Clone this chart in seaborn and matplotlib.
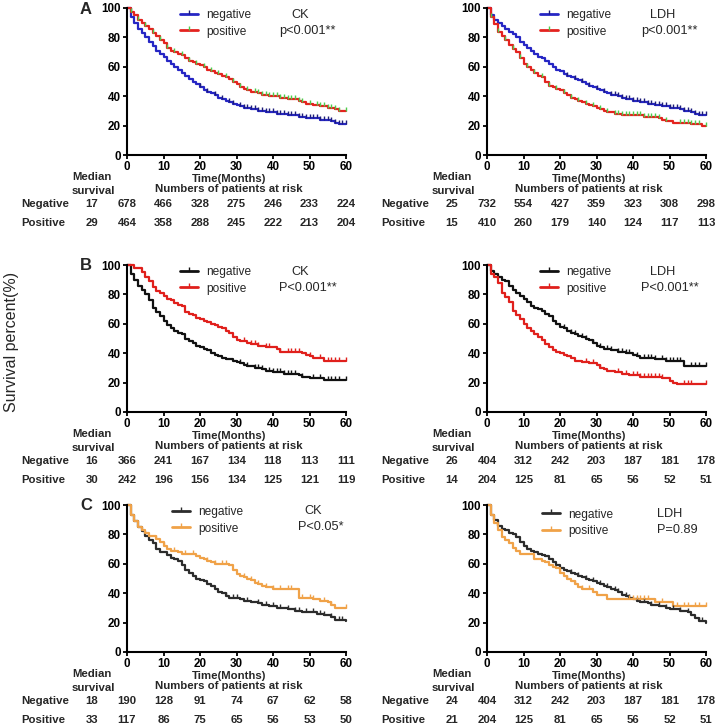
import matplotlib
matplotlib.use('Agg')
import matplotlib.pyplot as plt
import matplotlib.transforms as mtransforms
from matplotlib.lines import Line2D
from matplotlib.path import Path
import pandas as pd
import seaborn as sns

# survival (%) read month by month, 0..60
months = list(range(61))

ck_all_neg = [100, 94, 90, 86, 83, 80, 77, 74, 71, 69, 67, 64, 62, 60, 58, 56, 54, 52, 50, 48, 46,
              44, 43, 42, 41, 39, 38, 37, 36, 35, 34, 33, 32, 32, 31, 31, 30, 30, 29, 29, 29,
              28, 28, 28, 27, 27, 27, 26, 26, 25, 25, 25, 25, 24, 24, 24, 23, 22, 21, 21, 21]
ck_all_pos = [100, 97, 95, 92, 90, 88, 86, 83, 81, 78, 76, 73, 71, 70, 69, 68, 66, 64, 63, 62, 61,
              60, 58, 57, 56, 55, 54, 53, 52, 50, 48, 46, 45, 44, 43, 43, 42, 41, 41, 40, 40,
              40, 39, 39, 38, 38, 38, 37, 36, 35, 35, 34, 34, 33, 33, 32, 32, 31, 30, 30, 30]
ldh_all_neg = [100, 95, 92, 90, 88, 86, 84, 82, 80, 77, 75, 73, 71, 69, 67, 66, 64, 62, 60, 58, 57,
               55, 54, 53, 52, 51, 50, 48, 47, 46, 45, 44, 43, 42, 41, 41, 40, 39, 38, 38, 37,
               37, 36, 36, 35, 35, 34, 34, 33, 33, 32, 32, 32, 31, 30, 30, 29, 28, 27, 27, 27]
ldh_all_pos = [100, 94, 89, 84, 81, 78, 75, 72, 70, 66, 62, 60, 58, 56, 54, 53, 50, 47, 46, 45, 44,
               42, 41, 39, 38, 37, 36, 35, 34, 33, 32, 31, 30, 29, 29, 28, 28, 27, 27, 27, 27,
               27, 27, 26, 26, 26, 26, 25, 24, 23, 23, 22, 22, 22, 22, 22, 21, 21, 21, 20, 20]

ck_b_neg = [100, 94, 90, 86, 83, 80, 76, 71, 68, 65, 62, 59, 57, 55, 54, 53, 50, 48, 47, 45, 44,
            43, 42, 40, 39, 38, 37, 36, 36, 35, 34, 33, 32, 31, 31, 30, 30, 29, 28, 28, 27,
            27, 27, 26, 26, 26, 26, 25, 24, 24, 23, 23, 23, 23, 22, 22, 22, 22, 22, 22, 22]
ck_b_pos = [100, 100, 98, 98, 95, 92, 89, 85, 82, 81, 79, 77, 76, 74, 73, 72, 68, 67, 66, 64, 63,
            62, 61, 60, 59, 58, 57, 55, 54, 51, 49, 48, 48, 47, 46, 46, 45, 45, 44, 44, 44,
            43, 41, 41, 41, 41, 41, 41, 40, 39, 38, 37, 37, 37, 35, 35, 35, 35, 35, 35, 35]
ldh_b_neg = [100, 96, 94, 92, 90, 89, 86, 83, 81, 79, 77, 75, 72, 71, 70, 69, 67, 65, 62, 60, 58,
             57, 55, 54, 53, 52, 51, 50, 49, 47, 45, 44, 43, 43, 42, 42, 41, 41, 40, 40, 39,
             38, 37, 37, 37, 37, 36, 36, 36, 35, 35, 35, 35, 35, 31, 31, 31, 31, 31, 31, 31]
ldh_b_pos = [100, 94, 92, 88, 81, 78, 75, 69, 66, 63, 60, 57, 55, 53, 51, 49, 46, 44, 42, 41, 40,
             39, 38, 37, 35, 35, 34, 34, 33, 33, 32, 30, 29, 28, 28, 27, 27, 26, 26, 25, 25,
             25, 24, 24, 24, 24, 24, 24, 23, 23, 21, 20, 19, 19, 19, 19, 19, 19, 19, 19, 19]

ck_c_neg = [100, 93, 89, 85, 82, 79, 76, 74, 70, 68, 68, 66, 64, 63, 62, 59, 56, 54, 52, 50, 49,
            48, 46, 45, 43, 41, 40, 38, 37, 37, 37, 36, 35, 35, 34, 34, 33, 32, 32, 31, 31,
            30, 30, 30, 29, 29, 28, 28, 27, 27, 27, 27, 26, 26, 25, 25, 24, 22, 22, 22, 21]
ck_c_pos = [100, 93, 89, 85, 83, 81, 79, 79, 77, 75, 72, 70, 69, 69, 68, 67, 67, 67, 67, 65, 64,
            63, 62, 61, 60, 60, 60, 60, 59, 56, 53, 52, 51, 50, 49, 47, 46, 45, 44, 44, 43,
            43, 43, 43, 43, 43, 43, 37, 37, 37, 37, 36, 36, 35, 35, 34, 32, 30, 30, 30, 30]
ldh_c_neg = [100, 93, 90, 86, 84, 83, 81, 80, 78, 75, 72, 70, 69, 68, 67, 66, 65, 63, 61, 59, 57,
             56, 55, 54, 53, 52, 51, 50, 49, 48, 47, 46, 45, 44, 43, 42, 41, 39, 38, 37, 36,
             35, 34, 34, 33, 32, 32, 31, 31, 30, 29, 29, 29, 28, 28, 27, 25, 23, 21, 21, 20]
ldh_c_pos = [100, 93, 88, 83, 78, 76, 74, 71, 69, 67, 67, 67, 67, 63, 63, 62, 61, 59, 58, 57, 54,
             52, 50, 48, 46, 44, 43, 43, 43, 41, 39, 39, 39, 36, 36, 36, 36, 36, 36, 36, 36,
             36, 36, 36, 36, 36, 34, 34, 34, 34, 34, 31, 31, 31, 31, 31, 31, 31, 31, 31, 31]

# censoring ticks (months)
ck_all_neg_cens = [20, 22, 24, 26, 28, 29, 31, 32, 33, 34, 35, 36, 37, 38, 39, 40, 41, 42, 43, 44,
                   45, 46, 47, 48, 49, 50, 51, 52, 53, 54, 55, 56, 57, 58, 59, 60]
ck_all_pos_cens = [1, 3, 5, 7, 9, 11, 13, 15, 17, 19, 21, 23, 25, 27, 29, 31, 33, 35, 36, 37, 38,
                   39, 40, 41, 42, 43, 44, 45, 46, 47, 48, 50, 52, 53, 54, 55, 56, 57, 58, 60]
ldh_all_neg_cens = [22, 24, 26, 28, 30, 32, 34, 35, 36, 37, 38, 39, 40, 41, 42, 43, 44, 45, 46, 47,
                    48, 49, 50, 51, 52, 53, 54, 55, 56, 57, 58, 59, 60]
ldh_all_pos_cens = [1, 3, 5, 7, 9, 11, 13, 15, 17, 19, 21, 23, 25, 27, 29, 31, 33, 35, 36, 37, 38,
                    39, 40, 41, 42, 43, 44, 45, 46, 47, 49, 53, 54, 55, 56, 57, 58, 60]
ck_b_neg_cens = [31, 33, 35, 36, 37, 39, 40, 41, 42, 43, 44, 45, 46, 48, 51, 53, 55, 56, 57, 58, 60]
ck_b_pos_cens = [32, 34, 35, 36, 38, 39, 42, 44, 45, 46, 47, 50, 53, 55, 56, 57, 58, 60]
ldh_b_neg_cens = [21, 23, 24, 26, 27, 29, 31, 33, 34, 36, 37, 38, 39, 41, 43, 44, 45, 46, 48, 49,
                  50, 51, 52, 53, 56, 57, 58, 60]
ldh_b_pos_cens = [27, 29, 31, 36, 38, 40, 41, 42, 43, 44, 45, 46, 47, 48, 54, 55, 56, 60]
ck_c_neg_cens = [27, 29, 30, 33, 36, 38, 40, 42, 44, 46, 47, 49, 51, 53, 54, 56, 58, 59]
ck_c_pos_cens = [8, 10, 13, 16, 18, 22, 24, 26, 27, 32, 34, 36, 38, 40, 42, 44, 45, 48, 50, 51,
                 54, 56, 60]
ldh_c_neg_cens = [23, 25, 27, 29, 31, 33, 35, 36, 38, 39, 41, 43, 45, 47, 49, 51, 53, 55, 58, 59]
ldh_c_pos_cens = [20, 22, 24, 26, 28, 39, 40, 41, 42, 43, 44, 46, 48, 52, 54, 55, 57, 58, 60]

risk_times = [0, 10, 20, 30, 40, 50, 60]
ck_all_risk_neg = [678, 466, 328, 275, 246, 233, 224]
ck_all_risk_pos = [464, 358, 288, 245, 222, 213, 204]
ldh_all_risk_neg = [732, 554, 427, 359, 323, 308, 298]
ldh_all_risk_pos = [410, 260, 179, 140, 124, 117, 113]
ck_b_risk_neg = [366, 241, 167, 134, 118, 113, 111]
ck_b_risk_pos = [242, 196, 156, 134, 125, 121, 119]
ldh_b_risk_neg = [404, 312, 242, 203, 187, 181, 178]
ldh_b_risk_pos = [204, 125, 81, 65, 56, 52, 51]
ck_c_risk_neg = [190, 128, 91, 74, 67, 62, 58]
ck_c_risk_pos = [117, 86, 75, 65, 56, 53, 50]
ldh_c_risk_neg = [404, 312, 242, 203, 187, 181, 178]
ldh_c_risk_pos = [204, 125, 81, 65, 56, 52, 51]

medians = {'ck_all': (17, 29), 'ldh_all': (25, 15), 'ck_b': (16, 30),
           'ldh_b': (26, 14), 'ck_c': (18, 33), 'ldh_c': (24, 21)}

sns.set_style('ticks')
plt.rcParams['font.family'] = ['Liberation Sans', 'DejaVu Sans']

tick_up = Path([(0, 0), (0, 1)])

fig = plt.figure(figsize=(7.18, 7.26), dpi=100)
W, H = 718, 726
AX_W, AX_H = 219, 147


def make_ax(left_px, top_px):
    return fig.add_axes([left_px / W, 1 - (top_px + AX_H) / H, AX_W / W, AX_H / H])


def draw_panel(ax, neg, pos, neg_cens, pos_cens, colors, cens_colors, marker, pval,
               med, risk_neg, risk_pos, leg_x, leg_y, lab_x, lab_y):
    df = pd.DataFrame({'Time': months + months, 'Survival': neg + pos,
                       'group': ['negative'] * len(neg) + ['positive'] * len(pos)})
    sns.lineplot(data=df, x='Time', y='Survival', hue='group', palette=colors,
                 estimator=None, drawstyle='steps-post', lw=1.6, ax=ax, legend=False,
                 clip_on=False)
    for curve, cens, c in [(neg, neg_cens, cens_colors[0]), (pos, pos_cens, cens_colors[1])]:
        ax.plot(cens, [curve[t] for t in cens], ls='none', marker=tick_up, ms=5.5,
                mew=1.0, color=c, clip_on=False)

    ax.set_xlim(0, 60)
    ax.set_ylim(0, 100)
    ax.set_xticks(range(0, 61, 10))
    ax.set_yticks(range(0, 101, 20))
    ax.set_xlabel('')
    ax.set_ylabel('')
    sns.despine(ax=ax)
    for s in ['left', 'bottom']:
        ax.spines[s].set_linewidth(1.5)
        ax.spines[s].set_color('black')
    ax.tick_params(direction='out', length=3, width=1.3, pad=1.5, labelsize=8.4,
                   colors='black')
    for lab in ax.get_xticklabels() + ax.get_yticklabels():
        lab.set_fontweight('bold')

    handles = [Line2D([], [], color=colors['negative'], lw=2.0, marker=tick_up, ms=5.5,
                      mew=1.0, mec=cens_colors[0]),
               Line2D([], [], color=colors['positive'], lw=2.0, marker=tick_up, ms=5.5,
                      mew=1.0, mec=cens_colors[1])]
    ax.legend(handles, ['negative', 'positive'], loc='upper left',
              bbox_to_anchor=(leg_x, leg_y), frameon=False, fontsize=8.6,
              handlelength=1.5, handletextpad=0.7, labelspacing=0.4,
              borderpad=0, borderaxespad=0, numpoints=1)
    ax.text(lab_x, lab_y, marker, transform=ax.transAxes, ha='center', va='center',
            fontsize=9.2)
    ax.text(lab_x + 0.035, lab_y - 0.108, pval, transform=ax.transAxes, ha='center',
            va='center', fontsize=9.2)

    # risk table below the axis
    tr = mtransforms.blended_transform_factory(ax.transData, ax.transAxes)

    def yoff(px):
        return -px / AX_H

    bold = dict(fontweight='bold', fontsize=8.2, transform=tr, va='center')
    ax.text(-15.1, yoff(22), 'Median', ha='left', **bold)
    ax.text(-15.1, yoff(36), 'survival', ha='left', **bold)
    ax.text(28, yoff(24), 'Time(Months)', ha='center', **bold)
    ax.text(28, yoff(34), 'Numbers of patients at risk', ha='center', **bold)
    for row, lab, m, vals in [(49, 'Negative', med[0], risk_neg), (68, 'Positive', med[1], risk_pos)]:
        ax.text(-29.0, yoff(row), lab, ha='left', **bold)
        ax.text(-9.6, yoff(row), str(m), ha='center', **bold)
        for t, v in zip(risk_times, vals):
            ax.text(t, yoff(row), str(v), ha='center', **bold)


pal_a = {'negative': '#2626c4', 'positive': '#e4231f'}
pal_b = {'negative': '#111111', 'positive': '#e0201c'}
pal_c = {'negative': '#2c2c2c', 'positive': '#f0a248'}

ax = make_ax(127, 8)
draw_panel(ax, ck_all_neg, ck_all_pos, ck_all_neg_cens, ck_all_pos_cens, pal_a,
           ('#1c1c7a', '#4ccc4c'), 'CK', 'p<0.001**', medians['ck_all'],
           ck_all_risk_neg, ck_all_risk_pos, 0.242, 0.995, 0.79, 0.952)
ax = make_ax(487, 8)
draw_panel(ax, ldh_all_neg, ldh_all_pos, ldh_all_neg_cens, ldh_all_pos_cens, pal_a,
           ('#1c1c7a', '#4ccc4c'), 'LDH', 'p<0.001**', medians['ldh_all'],
           ldh_all_risk_neg, ldh_all_risk_pos, 0.242, 0.995, 0.80, 0.952)
ax = make_ax(127, 265)
draw_panel(ax, ck_b_neg, ck_b_pos, ck_b_neg_cens, ck_b_pos_cens, pal_b,
           ('#111111', '#e0201c'), 'CK', 'P<0.001**', medians['ck_b'],
           ck_b_risk_neg, ck_b_risk_pos, 0.242, 0.995, 0.79, 0.952)
ax = make_ax(487, 265)
draw_panel(ax, ldh_b_neg, ldh_b_pos, ldh_b_neg_cens, ldh_b_pos_cens, pal_b,
           ('#111111', '#e0201c'), 'LDH', 'P<0.001**', medians['ldh_b'],
           ldh_b_risk_neg, ldh_b_risk_pos, 0.242, 0.995, 0.80, 0.952)
ax = make_ax(127, 505)
draw_panel(ax, ck_c_neg, ck_c_pos, ck_c_neg_cens, ck_c_pos_cens, pal_c,
           ('#2c2c2c', '#f0a248'), 'CK', 'P<0.05*', medians['ck_c'],
           ck_c_risk_neg, ck_c_risk_pos, 0.205, 0.995, 0.85, 0.96)
ax = make_ax(487, 505)
draw_panel(ax, ldh_c_neg, ldh_c_pos, ldh_c_neg_cens, ldh_c_pos_cens, pal_c,
           ('#2c2c2c', '#f0a248'), 'LDH', 'P=0.89', medians['ldh_c'],
           ldh_c_risk_neg, ldh_c_risk_pos, 0.251, 0.975, 0.836, 0.94)

fig.text(12 / W, 1 - 342 / H, 'Survival percent(%)', rotation=90, ha='center',
         va='center', fontsize=11.5)
for letter, ypx in [('A', 9), ('B', 266), ('C', 506)]:
    fig.text(86 / W, 1 - ypx / H, letter, ha='center', va='center', fontsize=12,
             fontweight='bold')

fig.savefig('out.png', dpi=100)
